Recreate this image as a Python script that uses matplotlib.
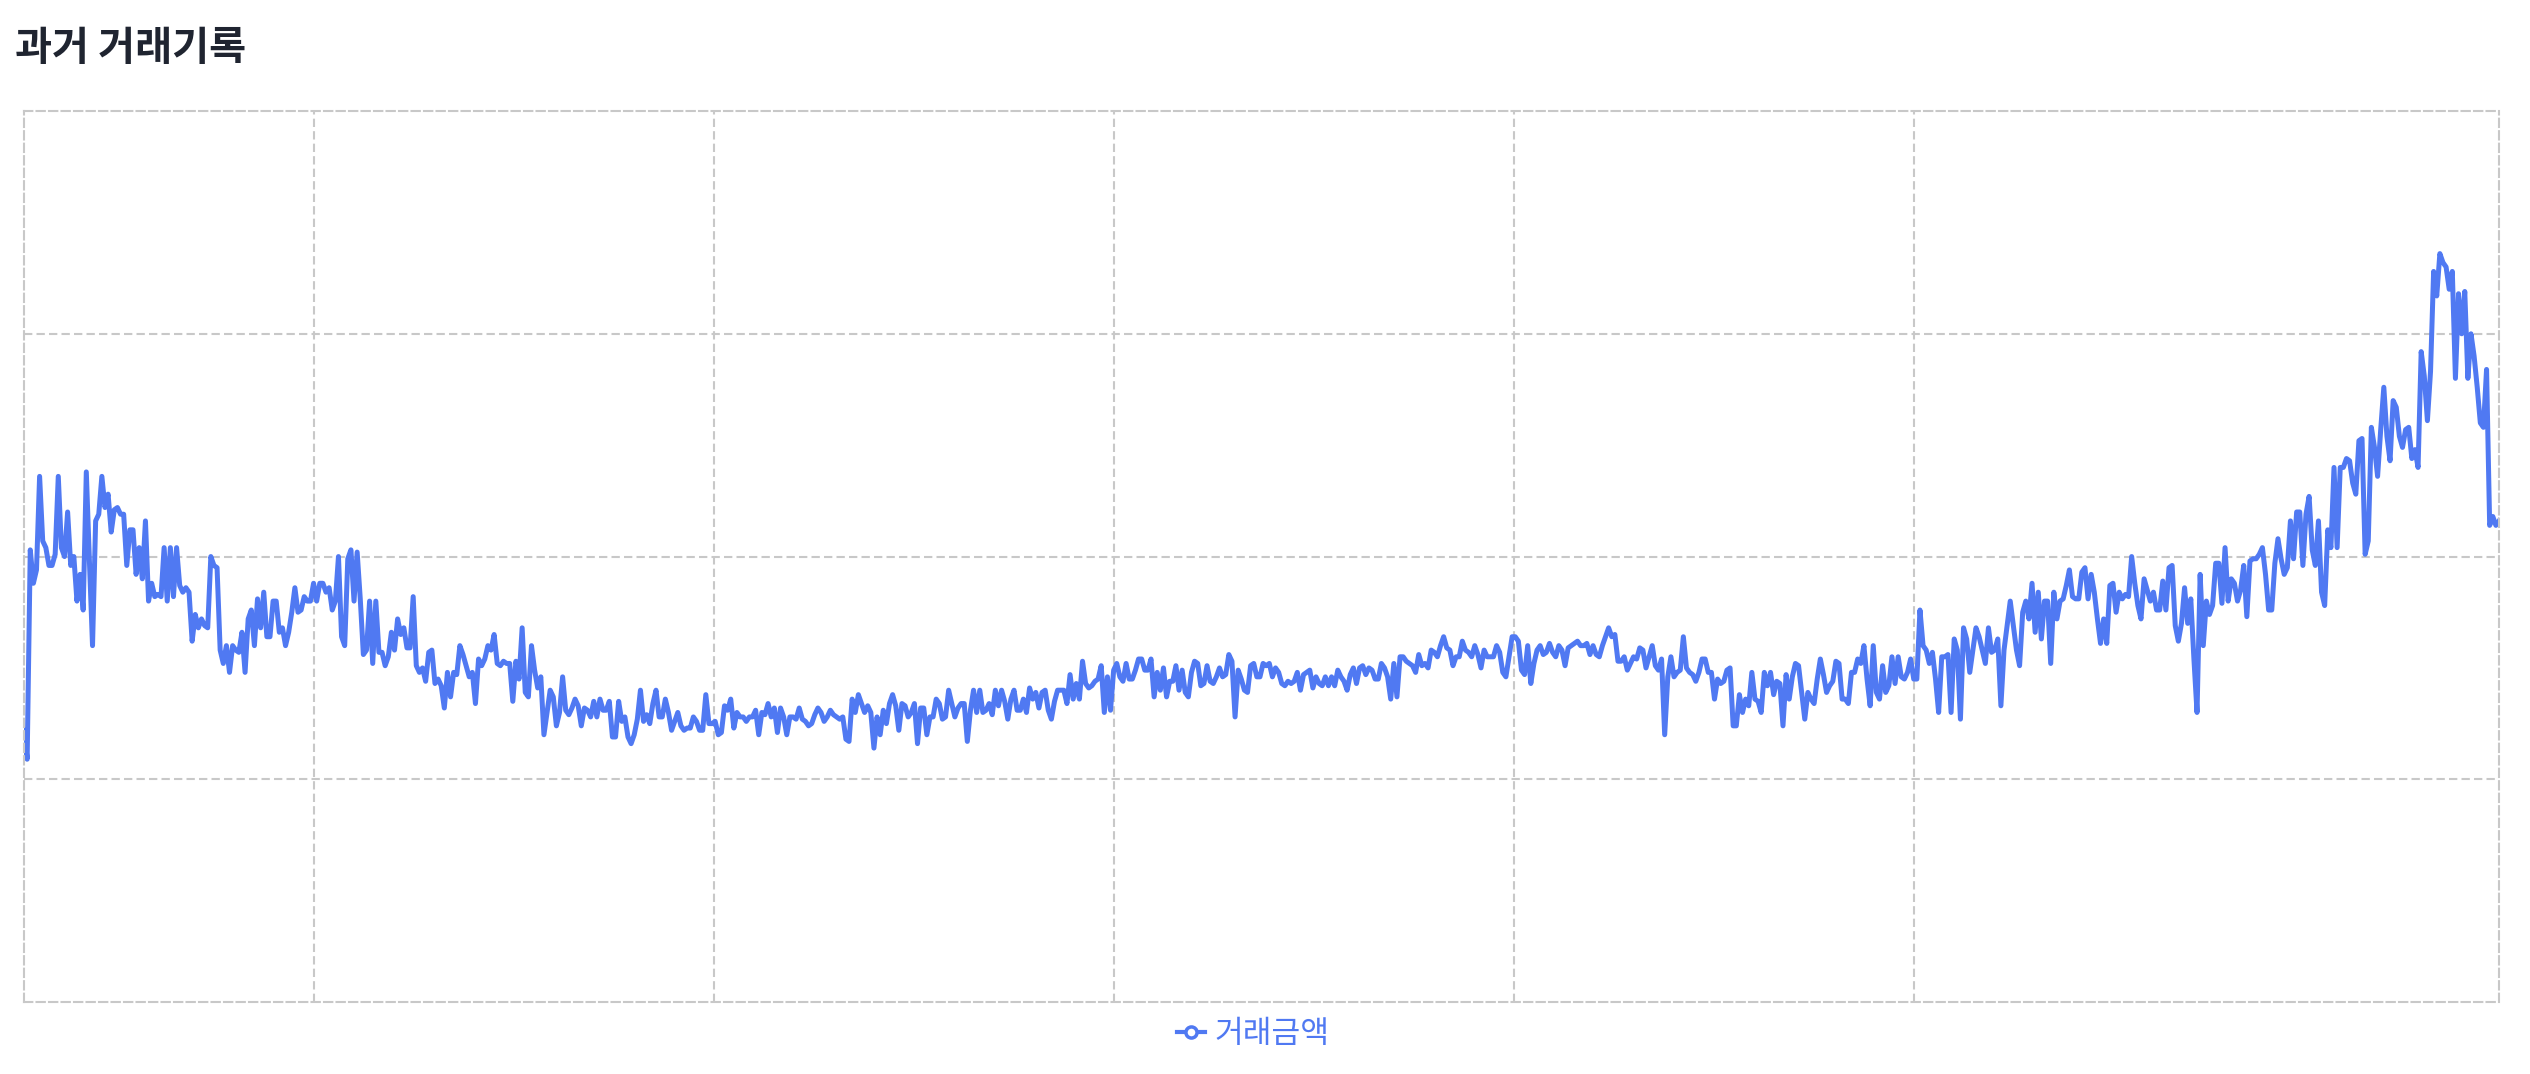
import numpy as np
import matplotlib.pyplot as plt
from matplotlib.lines import Line2D

plt.rcParams['font.family'] = ['Noto Sans CJK KR', 'DejaVu Sans']

title = '과거 거래기록'
series_name = '거래금액'

# trade amounts (left to right)
amount_part1 = [1.22, 1.09, 2.03, 1.88, 1.94, 2.36, 2.07, 2.04, 1.96, 1.96,
                2.01, 2.36, 2.04, 2.00, 2.20, 1.96, 2.00, 1.80, 1.92, 1.76,
                2.38, 1.98, 1.60, 2.16, 2.19, 2.36, 2.22, 2.28, 2.11, 2.21,
                2.22, 2.19, 2.19, 1.96, 2.12, 2.12, 1.92, 2.04, 1.90, 2.16,
                1.80, 1.88, 1.82, 1.83, 1.82, 2.04, 1.80, 2.04, 1.82, 2.04,
                1.87, 1.84, 1.86, 1.84, 1.62, 1.74, 1.68, 1.72, 1.69, 1.68,
                2.00, 1.96, 1.95, 1.58, 1.52, 1.60, 1.48, 1.60, 1.58, 1.57,
                1.66, 1.48, 1.72, 1.76, 1.60, 1.81, 1.68, 1.84, 1.64, 1.64,
                1.80, 1.80, 1.66, 1.68, 1.60, 1.66, 1.75, 1.86, 1.75, 1.76,
                1.82, 1.80, 1.80, 1.88, 1.80, 1.88, 1.88, 1.84, 1.86, 1.76,
                1.80, 2.00, 1.64, 1.60, 1.99, 2.03, 1.80, 2.02, 1.81, 1.56,
                1.58, 1.80, 1.52, 1.80, 1.57, 1.57, 1.51, 1.55, 1.66, 1.58,
                1.72, 1.65, 1.68, 1.59, 1.59, 1.82, 1.51, 1.48, 1.50, 1.44,
                1.57]
amount_part2 = [1.58, 1.43, 1.45, 1.42, 1.32, 1.48, 1.37, 1.48, 1.47, 1.60,
                1.56, 1.51, 1.46, 1.48, 1.34, 1.54, 1.51, 1.54, 1.60, 1.58,
                1.65, 1.52, 1.51, 1.53, 1.52, 1.52, 1.35, 1.53, 1.45, 1.68,
                1.39, 1.37, 1.60, 1.49, 1.41, 1.46, 1.20, 1.30, 1.40, 1.37,
                1.24, 1.30, 1.46, 1.31, 1.29, 1.32, 1.36, 1.33, 1.24, 1.32,
                1.31, 1.28, 1.35, 1.28, 1.36, 1.31, 1.31, 1.35, 1.19, 1.19,
                1.35, 1.26, 1.28, 1.19, 1.16, 1.20, 1.27, 1.40, 1.26, 1.29,
                1.25, 1.34, 1.40, 1.28, 1.28, 1.36, 1.30, 1.22, 1.26, 1.30,
                1.24, 1.22, 1.23, 1.23, 1.28, 1.26, 1.22, 1.22, 1.38, 1.25,
                1.25, 1.26, 1.20, 1.21, 1.33, 1.31, 1.36, 1.23, 1.30, 1.28,
                1.28, 1.26, 1.28, 1.28, 1.31, 1.20, 1.30, 1.29, 1.34, 1.28,
                1.32, 1.21, 1.32, 1.28, 1.20, 1.28, 1.28, 1.27, 1.32, 1.27,
                1.26, 1.24, 1.25, 1.29, 1.32, 1.30, 1.26, 1.28, 1.31, 1.29,
                1.28, 1.27, 1.28, 1.18]
amount_part3 = [1.17, 1.36, 1.30, 1.38, 1.34, 1.30, 1.33, 1.30, 1.14, 1.28,
                1.20, 1.31, 1.25, 1.34, 1.38, 1.33, 1.22, 1.34, 1.33, 1.28,
                1.30, 1.34, 1.16, 1.32, 1.32, 1.20, 1.28, 1.28, 1.36, 1.34,
                1.27, 1.28, 1.40, 1.34, 1.28, 1.32, 1.34, 1.34, 1.17, 1.31,
                1.40, 1.30, 1.40, 1.30, 1.31, 1.34, 1.29, 1.40, 1.33, 1.40,
                1.35, 1.27, 1.36, 1.40, 1.31, 1.31, 1.36, 1.30, 1.41, 1.36,
                1.39, 1.32, 1.39, 1.40, 1.31, 1.27, 1.35, 1.40, 1.40, 1.40,
                1.34, 1.47, 1.36, 1.43, 1.36, 1.53, 1.43, 1.41, 1.42, 1.44,
                1.45, 1.51, 1.30, 1.46, 1.31, 1.49, 1.52, 1.46, 1.44, 1.52,
                1.45, 1.45, 1.49, 1.54, 1.54, 1.49, 1.49, 1.54, 1.37, 1.48,
                1.40, 1.50, 1.37, 1.44, 1.44, 1.51, 1.40, 1.49, 1.39, 1.37,
                1.48, 1.53, 1.52, 1.42, 1.43, 1.51, 1.44, 1.43, 1.46, 1.50,
                1.46, 1.47, 1.56, 1.53, 1.28, 1.49, 1.45, 1.40, 1.39, 1.51,
                1.52, 1.46, 1.46, 1.52]
amount_part4 = [1.51, 1.52, 1.46, 1.50, 1.48, 1.43, 1.42, 1.44, 1.43, 1.44,
                1.48, 1.40, 1.47, 1.48, 1.49, 1.41, 1.46, 1.43, 1.42, 1.46,
                1.42, 1.46, 1.42, 1.49, 1.46, 1.44, 1.40, 1.47, 1.50, 1.43,
                1.50, 1.51, 1.47, 1.50, 1.49, 1.45, 1.45, 1.52, 1.50, 1.46,
                1.36, 1.52, 1.37, 1.55, 1.55, 1.53, 1.52, 1.51, 1.48, 1.56,
                1.51, 1.52, 1.50, 1.58, 1.57, 1.55, 1.60, 1.64, 1.59, 1.58,
                1.51, 1.55, 1.55, 1.62, 1.58, 1.57, 1.55, 1.60, 1.56, 1.50,
                1.58, 1.55, 1.55, 1.55, 1.60, 1.57, 1.48, 1.46, 1.55, 1.64,
                1.64, 1.62, 1.49, 1.47, 1.60, 1.43, 1.52, 1.58, 1.60, 1.56,
                1.57, 1.61, 1.57, 1.55, 1.60, 1.58, 1.51, 1.59, 1.60, 1.61,
                1.62, 1.60, 1.60, 1.61, 1.56, 1.60, 1.56, 1.55, 1.60, 1.64,
                1.68, 1.64, 1.65, 1.53, 1.53, 1.55, 1.49, 1.52, 1.55, 1.54,
                1.59, 1.58, 1.50, 1.55, 1.60, 1.51, 1.49, 1.54, 1.20, 1.46,
                1.55, 1.46, 1.48, 1.49, 1.64, 1.50]
amount_part5 = [1.48, 1.47, 1.44, 1.48, 1.54, 1.54, 1.48, 1.48, 1.36, 1.45,
                1.43, 1.44, 1.49, 1.50, 1.24, 1.24, 1.38, 1.30, 1.36, 1.33,
                1.48, 1.36, 1.35, 1.30, 1.48, 1.42, 1.48, 1.38, 1.44, 1.43,
                1.24, 1.47, 1.36, 1.46, 1.52, 1.51, 1.39, 1.27, 1.39, 1.36,
                1.34, 1.45, 1.54, 1.47, 1.39, 1.42, 1.44, 1.53, 1.52, 1.36,
                1.36, 1.34, 1.48, 1.48, 1.54, 1.52, 1.60, 1.45, 1.33, 1.60,
                1.39, 1.36, 1.51, 1.39, 1.42, 1.55, 1.43, 1.55, 1.46, 1.45,
                1.48, 1.54, 1.45, 1.45, 1.76, 1.60, 1.58, 1.52, 1.57, 1.45,
                1.30, 1.55, 1.55, 1.56, 1.30, 1.63, 1.58, 1.27, 1.68, 1.63,
                1.48, 1.58, 1.68, 1.64, 1.58, 1.52, 1.68, 1.57, 1.58, 1.63,
                1.33, 1.58, 1.69, 1.80, 1.69, 1.58, 1.51, 1.75, 1.80, 1.72,
                1.88, 1.66, 1.84, 1.63, 1.80, 1.80, 1.52, 1.84, 1.72, 1.80,
                1.81, 1.87, 1.94, 1.82, 1.81, 1.81, 1.93, 1.95, 1.81, 1.92,
                1.84, 1.72, 1.61, 1.72, 1.61, 1.87]
amount_part6 = [1.88, 1.75, 1.84, 1.81, 1.83, 1.82, 2.00, 1.88, 1.78, 1.72,
                1.90, 1.85, 1.80, 1.84, 1.76, 1.76, 1.89, 1.76, 1.95, 1.96,
                1.69, 1.62, 1.70, 1.86, 1.70, 1.81, 1.54, 1.30, 1.92, 1.60,
                1.80, 1.74, 1.78, 1.97, 1.97, 1.79, 2.04, 1.80, 1.90, 1.88,
                1.80, 1.85, 1.96, 1.73, 1.98, 1.99, 1.99, 2.01, 2.04, 1.92,
                1.76, 1.76, 1.97, 2.08, 1.99, 1.92, 1.95, 2.16, 1.99, 2.20,
                2.20, 1.96, 2.19, 2.27, 2.03, 1.96, 2.16, 1.84, 1.78, 2.12,
                2.04, 2.40, 2.04, 2.40, 2.40, 2.44, 2.43, 2.33, 2.28, 2.52,
                2.53, 2.01, 2.07, 2.58, 2.49, 2.36, 2.57, 2.76, 2.54, 2.43,
                2.70, 2.67, 2.54, 2.49, 2.57, 2.58, 2.44, 2.48, 2.40, 2.92,
                2.81, 2.61, 2.83, 3.28, 3.17, 3.36, 3.32, 3.30, 3.20, 3.28,
                2.80, 3.18, 3.00, 3.19, 2.80, 3.00, 2.90, 2.76, 2.60, 2.58,
                2.84, 2.14, 2.18, 2.14, 2.16]

amounts = (amount_part1 + amount_part2 + amount_part3
           + amount_part4 + amount_part5 + amount_part6)

line_color = '#5079f2'
grid_color = '#c8c8c8'
dash = (0, (4, 2))

fig = plt.figure(figsize=(25.3, 10.74), dpi=100)
ax = fig.add_axes([0.0095, 0.0670, 0.97825, 0.8296])

x = np.arange(len(amounts))
ax.plot(x, amounts, color=line_color, lw=3.6, solid_joinstyle='round')

n_last = len(amounts) - 1
ax.set_xlim(0, n_last)
ax.set_ylim(0, 4)

# vertical grid positions as fractions of the plot width
grid_fracs = [0.1172, 0.2788, 0.4404, 0.6020, 0.7636]
ax.set_xticks([f * n_last for f in grid_fracs])
ax.set_yticks([1, 2, 3])
ax.tick_params(length=0, labelbottom=False, labelleft=False)
ax.grid(True, color=grid_color, lw=1.5, linestyle=dash)
ax.set_axisbelow(True)
for s in ax.spines.values():
    s.set_linestyle(dash)
    s.set_color(grid_color)
    s.set_linewidth(1.5)

fig.text(15 / 2530, 1 - 48 / 1074, title, fontsize=29, fontweight='bold',
         color='#1f2430', va='center', ha='left')

handle = Line2D([], [], color=line_color, lw=3, marker='o', markersize=8,
                markerfacecolor='white', markeredgewidth=2.5)
fig.legend([handle], [series_name], loc='center', bbox_to_anchor=(0.4955, 0.037),
           frameon=False, fontsize=22.5, handlelength=0.9, handletextpad=0.3,
           labelcolor=line_color)

fig.savefig('out.png', dpi=100)
